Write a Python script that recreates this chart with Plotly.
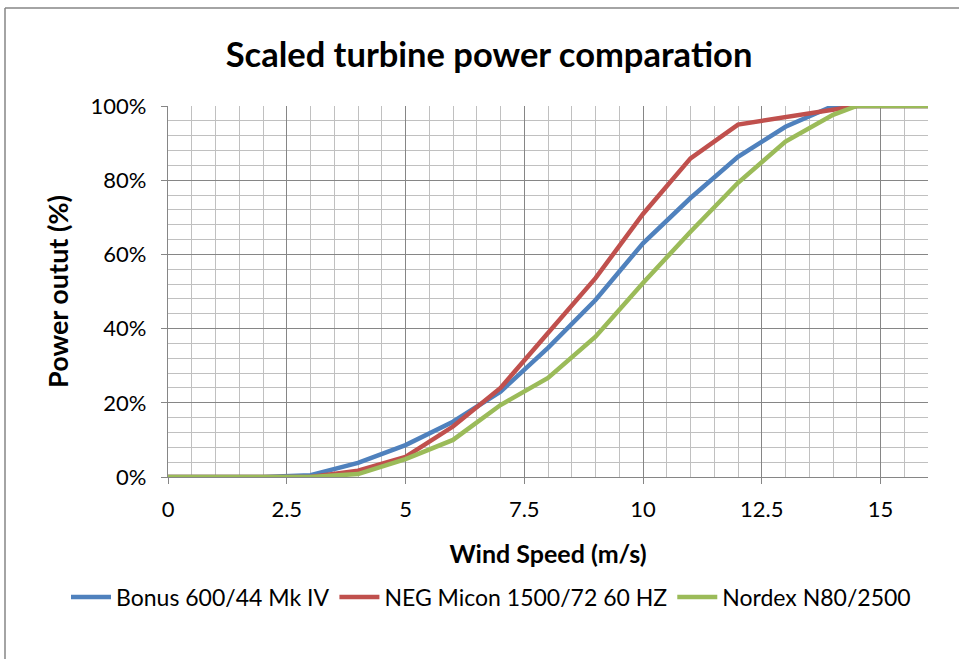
import plotly.graph_objects as go

wind_speed = [0, 1, 2, 3, 4, 5, 6, 7, 8, 9, 10, 11, 12, 13, 14, 14.5, 15, 16]
bonus = [0, 0, 0, 0.5, 3.8, 8.6, 14.9, 23.0, 34.8, 47.7, 63.0, 75.2, 86.3, 94.4, 100, 100, 100, 100]
neg_micon = [0, 0, 0, 0, 1.7, 5.4, 13.6, 24.0, 38.8, 53.6, 70.9, 85.9, 95.0, 97.1, 99.1, 100, 100, 100]
nordex = [0, 0, 0, 0, 0.8, 4.8, 10.0, 19.4, 26.7, 37.8, 52.3, 66.1, 79.3, 90.4, 97.6, 100, 100, 100]

series_names = ["Bonus 600/44 Mk IV", "NEG Micon 1500/72 60 HZ", "Nordex N80/2500"]
colors = ["#4F81BD", "#C0504D", "#9BBB59"]

FONT = "Lato"

fig = go.Figure()
for name, ys, c in zip(series_names, [bonus, neg_micon, nordex], colors):
    fig.add_trace(go.Scatter(x=wind_speed, y=ys, mode="lines", name=name,
                             line=dict(color=c, width=4.5), cliponaxis=False))

L, R, T, B = 168, 31, 106, 182
W, H = 959, 659
pw, ph = W - L - R, H - T - B

bx0 = (5 - L) / pw
by1 = (H - B - 8) / ph

fig.update_layout(
    width=W, height=H,
    margin=dict(l=L, r=R, t=T, b=B, autoexpand=False),
    paper_bgcolor="white", plot_bgcolor="white",
    font=dict(family=FONT, size=22, color="#000000"),
    title=dict(text="<b>Scaled turbine power comparation</b>",
               x=(489 - L) / pw, xref="paper", xanchor="center",
               y=1 - 55 / H, yanchor="middle",
               font=dict(family=FONT, size=34.5, color="#000000")),
    showlegend=True,
    legend=dict(orientation="h", x=(66 - L) / pw, xanchor="left",
                y=-(597 - (H - B)) / ph, yanchor="middle",
                font=dict(family=FONT, size=23, color="#000000"),
                bgcolor="rgba(0,0,0,0)", itemwidth=40, tracegroupgap=0),
    xaxis=dict(range=[0, 16], tick0=0, dtick=2.5, ticks="outside", ticklen=6,
               tickcolor="#868686", showline=True, linecolor="#868686", linewidth=1.3,
               showgrid=True, gridcolor="#868686", gridwidth=1.3, zeroline=False,
               minor=dict(dtick=0.5, tick0=0, showgrid=True, gridcolor="#C0C0C0", gridwidth=1.3),
               tickfont=dict(family=FONT, size=22),
               ticklabelstandoff=6,
               title=dict(text="<b>Wind Speed (m/s)</b>", standoff=24,
                          font=dict(family=FONT, size=25))),
    yaxis=dict(range=[0, 100], tick0=0, dtick=20, ticksuffix="%", ticks="outside", ticklen=6,
               tickcolor="#868686", showline=True, linecolor="#868686", linewidth=1.3,
               showgrid=True, gridcolor="#868686", gridwidth=1.3, zeroline=False,
               minor=dict(dtick=4, tick0=0, showgrid=True, gridcolor="#C0C0C0", gridwidth=1.3),
               tickfont=dict(family=FONT, size=22),
               ticklabelstandoff=10,
               title=dict(text="<b>Power outut (%)</b>", standoff=14,
                          font=dict(family=FONT, size=27))),
    shapes=[
        dict(type="line", xref="paper", yref="paper",
             x0=bx0, x1=3, y0=by1, y1=by1,
             line=dict(color="#868686", width=1.5), layer="below"),
        dict(type="line", xref="paper", yref="paper",
             x0=bx0, x1=bx0, y0=-3, y1=by1,
             line=dict(color="#868686", width=1.5), layer="below"),
    ],
)

fig.write_html("out.html")
